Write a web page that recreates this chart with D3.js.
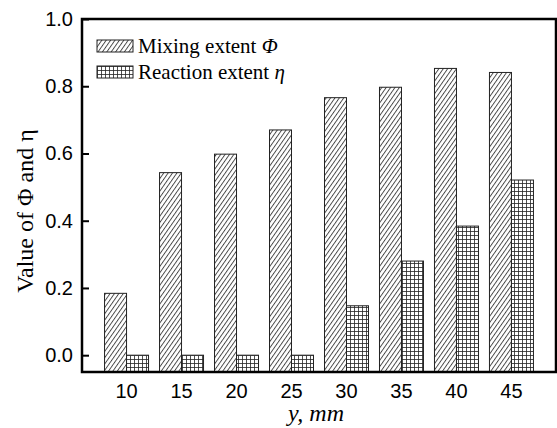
<!DOCTYPE html>
<html>
<head>
<meta charset="utf-8">
<script src="https://cdn.jsdelivr.net/npm/d3@7"></script>
<style>
body { margin: 0; background: #fff; }
svg { display: block; }
</style>
</head>
<body>
<div id="chart"></div>
<script>
// data
var positions = ["10", "15", "20", "25", "30", "35", "40", "45"];
var mixing = [0.184, 0.543, 0.598, 0.670, 0.766, 0.797, 0.853, 0.841];
var reaction = [0.0, 0.0, 0.0, 0.0, 0.147, 0.280, 0.384, 0.521];
var yTicks = [0.0, 0.2, 0.4, 0.6, 0.8, 1.0];

var W = 557, H = 428;
var margin = {top: 19, right: 1, bottom: 56, left: 82};
var width = W - margin.left - margin.right,
    height = H - margin.top - margin.bottom;

var serif = "'Liberation Serif', 'Times New Roman', serif";
var sans = "'Liberation Sans', Arial, sans-serif";

var svg = d3.select("#chart").append("svg")
    .attr("width", W)
    .attr("height", H);

// patterns
var defs = svg.append("defs");
defs.append("pattern")
    .attr("id", "diag")
    .attr("patternUnits", "userSpaceOnUse")
    .attr("width", 3.6).attr("height", 10)
    .attr("patternTransform", "rotate(35)")
  .append("line")
    .attr("x1", 0.5).attr("y1", 0).attr("x2", 0.5).attr("y2", 10)
    .attr("stroke", "#333").attr("stroke-width", 0.9);

var grid = defs.append("pattern")
    .attr("id", "grid")
    .attr("patternUnits", "userSpaceOnUse")
    .attr("width", 4).attr("height", 4);
grid.append("path")
    .attr("d", "M0,0.5 H4 M0.5,0 V4")
    .attr("stroke", "#222").attr("stroke-width", 0.8).attr("fill", "none");

var g = svg.append("g")
    .attr("transform", "translate(" + margin.left + "," + margin.top + ")");

var x = d3.scaleBand().domain(positions).range([0, width])
    .paddingInner(0.2).paddingOuter(0.41);
var x1 = d3.scaleBand().domain(["mix", "react"]).range([0, x.bandwidth()]);
var y = d3.scaleLinear().domain([-0.05, 1.0]).range([height, 0]);

var series = [
    {key: "mix", values: mixing, fill: "url(#diag)"},
    {key: "react", values: reaction, fill: "url(#grid)"}
];

series.forEach(function(s){
    g.selectAll(".bar-" + s.key)
        .data(s.values)
        .enter().append("rect")
        .attr("class", "bar-" + s.key)
        .attr("x", (d, i) => x(positions[i]) + x1(s.key))
        .attr("width", x1.bandwidth())
        .attr("y", d => y(d))
        .attr("height", d => y(-0.05) - y(d))
        .attr("fill", "#fff")
        .clone()
        .attr("fill", s.fill)
        .attr("stroke", "#222")
        .attr("stroke-width", 1);
});

// y axis, ticks pointing inward
var yAxis = d3.axisRight(y).tickValues(yTicks).tickSize(7).tickFormat(d3.format(".1f"));
var ya = g.append("g").call(yAxis);
ya.select(".domain").remove();
ya.selectAll("line").attr("stroke", "#000").attr("stroke-width", 2);
ya.selectAll("text")
    .attr("x", -9)
    .attr("text-anchor", "end")
    .style("font-family", sans)
    .style("font-size", "20px")
    .attr("fill", "#000");

// x tick labels
g.selectAll(".xlab")
    .data(positions)
    .enter().append("text")
    .attr("class", "xlab")
    .attr("x", d => x(d) + x.bandwidth() / 2)
    .attr("y", height + 26)
    .attr("text-anchor", "middle")
    .style("font-family", sans)
    .style("font-size", "20px")
    .text(d => d);

// frame
g.append("rect")
    .attr("x", 0).attr("y", 0)
    .attr("width", width).attr("height", height)
    .attr("fill", "none")
    .attr("stroke", "#000")
    .attr("stroke-width", 2.5);

// axis titles
svg.append("text")
    .attr("transform", "translate(33,211) rotate(-90)")
    .attr("text-anchor", "middle")
    .style("font-family", serif)
    .style("font-size", "24px")
    .text("Value of \u03A6 and \u03B7");

svg.append("text")
    .attr("x", 316).attr("y", 421)
    .attr("text-anchor", "middle")
    .style("font-family", serif)
    .style("font-size", "24px")
    .style("font-style", "italic")
    .text("y, mm");

// legend
var legendItems = [
    {label: "Mixing extent ", sym: "\u03A6", fill: "url(#diag)"},
    {label: "Reaction extent ", sym: "\u03B7", fill: "url(#grid)"}
];
var legend = svg.selectAll(".legend")
    .data(legendItems)
    .enter().append("g")
    .attr("class", "legend")
    .attr("transform", (d, i) => "translate(97," + (40 + i * 26) + ")");

legend.append("rect")
    .attr("width", 36).attr("height", 12)
    .attr("fill", d => d.fill)
    .attr("stroke", "#222").attr("stroke-width", 1);

var lt = legend.append("text")
    .attr("x", 41).attr("y", 12.5)
    .style("font-family", serif)
    .style("font-size", "21px");
lt.append("tspan").text(d => d.label);
lt.append("tspan").style("font-style", "italic").text(d => d.sym);
</script>
</body>
</html>
